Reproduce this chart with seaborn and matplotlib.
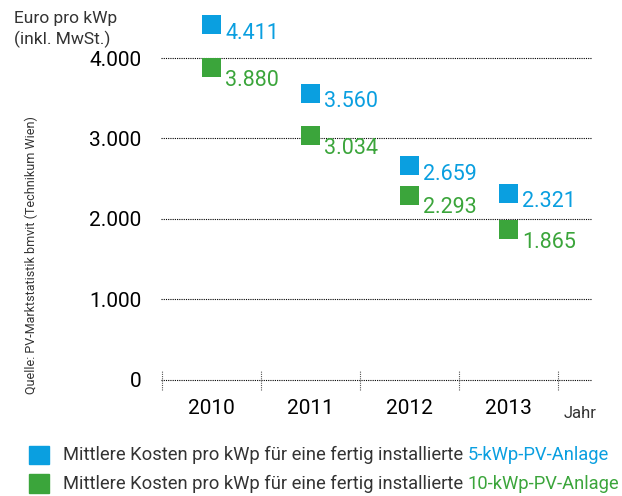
import numpy as np
import pandas as pd
import seaborn as sns
import matplotlib.pyplot as plt

# data
years = ["2010", "2011", "2012", "2013"]
kosten_5kwp = [4411, 3560, 2659, 2321]
kosten_10kwp = [3880, 3034, 2293, 1865]
labels_5kwp = ["4.411", "3.560", "2.659", "2.321"]
labels_10kwp = ["3.880", "3.034", "2.293", "1.865"]
yticks = [0, 1000, 2000, 3000, 4000]
ytick_labels = ["0", "1.000", "2.000", "3.000", "4.000"]

blue = "#0a9fe0"
green = "#3ba53b"
grey = "#333333"

sns.set_style("white")
plt.rcParams['font.family'] = ['Roboto', 'DejaVu Sans']

df = pd.DataFrame({
    "Jahr": years * 2,
    "Kosten": kosten_5kwp + kosten_10kwp,
    "Anlage": ["5-kWp"] * 4 + ["10-kWp"] * 4,
})
df["x"] = [0.5 + i for i in range(4)] * 2

fig = plt.figure(figsize=(6.22, 4.96), dpi=100)
ax = fig.add_axes([0.259, 0.2016, 0.693, 0.795])

# dotted grid lines
for yv in yticks:
    ax.axhline(yv, color="black", linestyle=(0, (1, 1)), linewidth=0.8, zorder=1)
# category boundary ticks
for xb in range(5):
    ax.plot([xb, xb], [-125, 125], color="#555555", linestyle=(0, (1, 1)),
            linewidth=0.8, zorder=1)

sns.scatterplot(data=df, x="x", y="Kosten", hue="Anlage",
                palette={"5-kWp": blue, "10-kWp": green}, marker="s",
                s=185, linewidth=0, legend=False, ax=ax, zorder=3)

for i in range(4):
    ax.annotate(labels_5kwp[i], (0.5 + i, kosten_5kwp[i]), xytext=(10, -6),
                textcoords="offset points", color=blue, fontsize=15.5,
                va="center")
    ax.annotate(labels_10kwp[i], (0.5 + i, kosten_10kwp[i]), xytext=(10, -9),
                textcoords="offset points", color=green, fontsize=15.5,
                va="center")

ax.set_xlim(-0.01, 4.35)
ax.set_ylim(-200, 4700)
ax.set_yticks(yticks)
ax.set_yticklabels(ytick_labels, fontsize=15, color="black")
ax.set_xticks([0.5 + i for i in range(4)])
ax.set_xticklabels(years, fontsize=15, color="black")
ax.tick_params(axis="both", length=0, pad=14)
ax.tick_params(axis="x", pad=2)
ax.set_xlabel("")
ax.set_ylabel("")
sns.despine(ax=ax, left=True, bottom=True)

ax.text(4.06, -420, "Jahr", fontsize=12, color=grey, ha="left", va="center")

fig.text(0.022, 0.978, "Euro pro kWp\n(inkl. MwSt.)", fontsize=12.5, color=grey,
         ha="left", va="top", linespacing=1.35)
fig.text(0.05, 0.485, "Quelle: PV-Marktstatistik bmvit (Technikum Wien)",
         fontsize=9, color=grey, rotation=90, ha="center", va="center")

# legend
for yy, col, tail in [(0.0827, blue, "5-kWp-PV-Anlage"), (0.0252, green, "10-kWp-PV-Anlage")]:
    fig.patches.append(plt.Rectangle((0.0466, yy - 0.0185), 0.0322, 0.037,
                                     transform=fig.transFigure, color=col))
    t = fig.text(0.101, yy, "Mittlere Kosten pro kWp für eine fertig installierte ",
                 fontsize=13.2, color=grey, ha="left", va="center")
    fig.canvas.draw()
    bb = t.get_window_extent()
    fig.text(bb.x1 / fig.bbox.width, yy, tail, fontsize=13.2, color=col,
             ha="left", va="center")

fig.savefig("out.png", dpi=100)
